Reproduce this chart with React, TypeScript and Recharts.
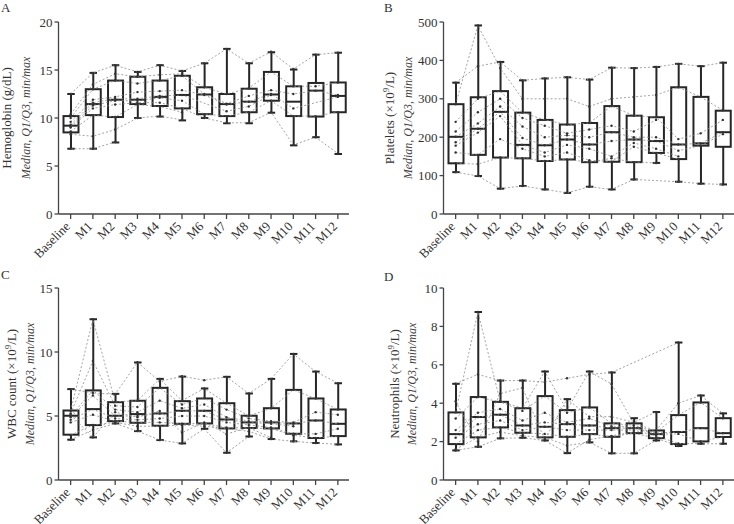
import React from "react";
import { ComposedChart, Bar, Line, XAxis, YAxis } from "recharts";

const months = ["Baseline", "M1", "M2", "M3", "M4", "M5", "M6", "M7", "M8", "M9", "M10", "M11", "M12"];

// A - hemoglobin (g/dL)
const hgbMin = [6.8, 6.8, 7.45, 10.0, 10.15, 9.75, 10.0, 9.45, 9.45, 10.55, 7.15, 8.0, 6.25];
const hgbQ1 = [8.5, 10.3, 10.1, 11.45, 11.25, 11.0, 10.4, 10.2, 10.6, 11.8, 10.2, 10.15, 10.6];
const hgbMed = [9.2, 11.45, 11.9, 11.9, 12.2, 12.4, 12.45, 11.45, 11.7, 12.45, 11.7, 12.85, 12.3];
const hgbQ3 = [10.2, 13.0, 13.9, 14.3, 13.9, 14.4, 13.2, 12.5, 13.05, 14.8, 13.3, 13.65, 13.7];
const hgbMax = [12.5, 14.7, 15.5, 14.8, 15.5, 14.9, 15.7, 17.2, 15.7, 16.85, 15.05, 16.6, 16.8];
const hgbPatients: (number | null)[][] = [
  [12.5, 14.7, 15.5, 14.8, 15.5, 14.9, 15.7, 17.2, 15.7, 16.9, 15.1, 16.6, 16.8],
  [10.4, 13.5, 14.6, 14.3, 14.5, 14.6, 13.2, 12.5, 13.1, 14.8, 13.3, 13.3, 13.7],
  [10.0, 13.0, 13.9, 13.6, 13.9, 14.4, 12.5, 11.5, 12.3, 12.9, 12.5, 12.85, 12.4],
  [9.6, 11.9, 12.2, 12.7, 12.8, 12.9, 12.4, 11.4, 11.7, 12.5, 11.0, null, 12.2],
  [9.3, 11.6, 12.0, 12.0, 12.3, 12.4, null, 10.7, 11.2, 12.4, null, null, null],
  [9.1, 11.3, 11.8, 11.8, 12.1, 11.8, 10.4, 10.2, 10.6, 11.8, 10.2, 10.2, 10.6],
  [9.0, 11.0, 11.4, 11.6, 11.6, 11.0, 10.0, 9.5, 9.5, 10.6, 7.2, 8.0, 6.3],
  [8.6, 10.3, 10.1, 11.4, 11.2, 10.6, null, null, null, null, null, null, null],
  [8.3, 8.1, 8.8, 10.0, 10.2, 9.8, null, null, null, null, null, null, null],
  [6.8, 6.8, 7.5, null, null, null, null, null, null, null, null, null, null],
];

// B - platelets (x10^9/L)
const pltMin = [109, 99, 66, 73, 64, 55, 71, 64, 90, 133, 84, 79, 77];
const pltQ1 = [132, 154, 147, 145, 138, 142, 135, 136, 135, 159, 143, 178, 175];
const pltMed = [201, 222, 266, 180, 179, 194, 181, 213, 194, 190, 181, 184, 213];
const pltQ3 = [286, 304, 320, 264, 245, 233, 237, 281, 256, 252, 330, 305, 269];
const pltMax = [342, 491, 396, 348, 353, 356, 350, 381, 380, 383, 391, 385, 394];
const pltPatients: (number | null)[][] = [
  [342, 385, 396, 348, 353, 356, 350, 381, 380, 383, 391, 385, 394],
  [286, 491, 380, 300, 300, 300, 280, 300, 305, 310, 330, 305, 270],
  [240, 300, 320, 264, 245, 233, 237, 281, 256, 252, 195, 210, 245],
  [215, 265, 300, 250, 230, 210, 220, 230, 215, 245, null, null, null],
  [201, 236, 280, 228, 200, 205, 200, 213, 200, 200, 181, 184, 213],
  [187, 222, 266, 198, 179, 194, 181, 190, 194, 190, 165, 178, 208],
  [178, 212, 255, 180, 160, 180, 170, 150, 185, 170, 150, null, null],
  [160, 154, 195, 170, 150, 160, 140, 136, 175, 159, 143, null, null],
  [132, 130, 147, 145, 138, 142, 135, 145, 135, 133, null, null, null],
  [109, 99, 66, 73, 64, 55, 71, 64, 90, null, 84, 79, 77],
];

// C - WBC count (x10^9/L)
const wbcMin = [3.15, 3.33, 4.42, 3.82, 3.12, 2.86, 4.0, 2.13, 3.4, 3.2, 3.02, 2.89, 2.78];
const wbcQ1 = [3.54, 4.29, 4.6, 4.47, 4.24, 4.39, 4.42, 4.03, 4.06, 4.03, 3.61, 3.28, 3.43];
const wbcMed = [5.02, 5.54, 5.02, 5.15, 5.2, 5.41, 5.41, 4.73, 4.5, 4.5, 4.42, 4.65, 4.39];
const wbcQ3 = [5.43, 7.0, 6.08, 6.19, 7.2, 6.16, 6.37, 6.0, 5.02, 5.61, 7.04, 6.37, 5.51];
const wbcMax = [7.1, 12.56, 6.73, 9.18, 7.9, 8.08, 7.15, 8.06, 6.76, 7.9, 9.85, 8.47, 7.56];
const wbcPatients: (number | null)[][] = [
  [7.1, 6.8, 6.7, 9.2, 7.7, 8.1, 7.8, 8.06, 6.76, 7.9, 9.85, 8.47, 7.56],
  [5.4, 12.56, 6.1, 6.2, 7.9, 6.2, 7.15, 6.0, 5.0, 5.6, 7.04, 6.37, 5.5],
  [5.2, 9.3, 5.8, 5.7, 7.2, 5.9, 6.4, 5.5, 4.8, 4.6, 4.5, 5.3, 5.1],
  [5.0, 7.0, 5.5, 5.3, 6.2, 5.6, 5.9, 4.9, 4.6, 4.5, 4.4, 4.65, 4.4],
  [4.9, 6.6, 5.0, 5.0, 5.2, 5.4, 5.4, 4.7, 4.5, 4.4, 4.2, null, null],
  [4.7, 5.54, 4.8, 4.7, 4.8, 5.0, 5.0, 4.5, 4.3, 4.1, 3.61, 3.6, 4.0],
  [4.5, 5.1, 4.6, 4.5, 4.5, 4.4, 4.4, 4.1, 4.06, 4.0, 3.5, 3.28, 3.43],
  [3.5, 4.3, 4.5, 4.2, 4.2, 4.3, 4.2, 4.03, 3.8, 3.2, 3.02, 2.89, 2.78],
  [3.15, 3.9, 4.42, 3.82, 3.12, 2.86, 4.0, 2.13, 3.4, null, null, null, null],
  [5.1, 3.33, 5.3, 4.9, 5.4, 3.7, 4.5, 3.6, 4.1, 3.3, null, null, null],
];

// D - neutrophils (x10^9/L)
const neuMin = [1.54, 1.73, 2.17, 2.2, 2.06, 1.4, 1.96, 1.39, 1.39, 2.06, 1.77, 1.89, 1.89];
const neuQ1 = [1.87, 2.22, 2.74, 2.46, 2.22, 2.25, 2.39, 2.25, 2.44, 2.18, 1.87, 2.01, 2.24];
const neuMed = [2.39, 3.28, 3.4, 2.84, 2.77, 2.91, 2.84, 2.7, 2.7, 2.39, 2.5, 2.7, 2.44];
const neuQ3 = [3.52, 4.32, 4.07, 3.74, 4.37, 3.64, 3.78, 2.95, 2.95, 2.58, 3.38, 4.04, 3.22];
const neuMax = [5.01, 8.75, 5.18, 5.18, 5.65, 4.21, 5.65, 5.6, 3.22, 3.54, 7.16, 4.4, 3.47];
const neuPatients: (number | null)[][] = [
  [5.01, 5.5, 5.18, 5.18, 5.1, 5.3, 5.5, 5.6, null, null, 7.16, null, null],
  [3.52, 8.75, 4.1, 3.74, 5.65, 3.64, 5.65, 5.0, 2.95, 2.58, 4.0, 4.4, 3.47],
  [3.2, 4.32, 4.07, 3.6, 4.37, 3.5, 3.78, 2.95, 2.85, 2.5, 3.38, 4.04, 3.22],
  [2.6, 3.5, 3.7, 3.1, 3.5, 3.0, 3.2, 2.8, 2.75, 2.45, 2.5, 2.7, 2.44],
  [2.39, 3.28, 3.4, 2.84, 3.0, 2.91, 2.84, 2.7, 2.7, 2.39, 2.4, 2.01, 2.24],
  [2.2, 2.9, 3.1, 2.6, 2.77, 2.6, 2.6, 2.6, 2.6, 2.3, 1.9, 1.89, 1.89],
  [1.87, 2.6, 2.74, 2.46, 2.4, 2.25, 2.39, 2.25, 2.44, 2.18, 1.77, null, null],
  [1.6, 2.22, 2.5, 2.3, 2.22, 1.8, 1.96, 1.39, 1.39, 2.06, null, null, null],
  [1.54, 1.73, 2.17, 2.2, 2.06, 1.4, 2.1, 2.3, 2.5, null, null, null, null],
  [4.1, 2.0, 4.5, 4.8, 2.1, 4.21, 3.3, 3.3, 3.0, 3.54, null, null, null],
];

const SERIF = "'Liberation Serif', 'Times New Roman', Times, serif";
const INK = "#262626";

function buildRows(mins: number[], q1s: number[], meds: number[], q3s: number[], maxs: number[], patients: (number | null)[][]) {
  return months.map((month, i) => {
    const row: any = { month, range: [mins[i], maxs[i]], min: mins[i], q1: q1s[i], med: meds[i], q3: q3s[i], max: maxs[i] };
    patients.forEach((p, j) => { row["p" + j] = p[i]; });
    return row;
  });
}

// draws the whole box from the min-max range bar that recharts positions
function BoxShape(props: any) {
  const { x, y, width, height, payload } = props;
  if (payload == null || height == null) return <g />;
  const top = Math.min(y, y + height);
  const h = Math.abs(height);
  const span = payload.max - payload.min || 1;
  const py = (v: number) => top + ((payload.max - v) / span) * h;
  const cx = x + width / 2;
  const cap = width * 0.25;
  return (
    <g stroke={INK} strokeWidth={2} fill="none">
      <line x1={cx} x2={cx} y1={py(payload.max)} y2={py(payload.q3)} />
      <line x1={cx} x2={cx} y1={py(payload.q1)} y2={py(payload.min)} />
      <line x1={cx - cap} x2={cx + cap} y1={py(payload.max)} y2={py(payload.max)} />
      <line x1={cx - cap} x2={cx + cap} y1={py(payload.min)} y2={py(payload.min)} />
      <rect x={x} y={py(payload.q3)} width={width} height={py(payload.q1) - py(payload.q3)} />
      <line x1={x} x2={x + width} y1={py(payload.med)} y2={py(payload.med)} />
    </g>
  );
}

function MonthTick({ x, y, payload }: any) {
  const ax = x - 3;
  const ay = y + 3;
  return (
    <text
      x={ax}
      y={ay}
      transform={`rotate(-45 ${ax} ${ay})`}
      textAnchor="end"
      dy="0.35em"
      fontFamily={SERIF}
      fontSize={13}
      fill="#333"
    >
      {payload.value}
    </text>
  );
}

type PanelProps = {
  letter: string;
  left: number;
  top: number;
  rows: any[];
  patientCount: number;
  yMax: number;
  yTicks: number[];
  title: React.ReactNode;
  titleX: number;
  subX: number;
  letterY: number;
};

function Panel({ letter, left, top, rows, patientCount, yMax, yTicks, title, titleX, subX, letterY }: PanelProps) {
  const ids = Array.from({ length: patientCount }, (_, j) => "p" + j);
  return (
    <div style={{ position: "absolute", left, top, width: 385, height: 258 }}>
      <ComposedChart width={349} height={258} data={rows} margin={{ top: 22, right: 0, bottom: 0, left: 0 }}>
        <XAxis
          dataKey="month"
          interval={0}
          tick={<MonthTick />}
          tickSize={5}
          tickMargin={2}
          height={44}
          padding={{ left: 1, right: 0 }}
          axisLine={{ stroke: "#444", strokeWidth: 1.3 }}
          tickLine={{ stroke: "#444", strokeWidth: 1.3 }}
        />
        <YAxis
          domain={[0, yMax]}
          ticks={yTicks}
          width={58.5}
          tickSize={4}
          tickMargin={2}
          axisLine={{ stroke: "#444", strokeWidth: 1.3 }}
          tickLine={{ stroke: "#444", strokeWidth: 1.3 }}
          tick={{ fontFamily: SERIF, fontSize: 13, fill: "#333" }}
          allowDataOverflow
        />
        {ids.map((k) => (
          <Line
            key={k}
            dataKey={k}
            type="linear"
            stroke="#8c8c8c"
            strokeWidth={0.8}
            strokeDasharray="2 2"
            dot={{ r: 1.2, fill: "#333", stroke: "none" }}
            activeDot={false}
            connectNulls
            isAnimationActive={false}
          />
        ))}
        <Bar dataKey="range" barSize={15} shape={<BoxShape />} isAnimationActive={false} />
      </ComposedChart>
      <svg width={385} height={258} style={{ position: "absolute", left: 0, top: 0, overflow: "visible", pointerEvents: "none" }}>
        <text x={letter === "B" || letter === "D" ? -1 : 1} y={letterY} fontFamily={SERIF} fontSize={13} fill="#333">
          {letter}
        </text>
        <text
          transform={`translate(${titleX + 4},118) rotate(-90)`}
          textAnchor="middle"
          fontFamily={SERIF}
          fontSize={13}
          fill="#333"
        >
          {title}
        </text>
        <text
          transform={`translate(${subX + 4},118) rotate(-90)`}
          textAnchor="middle"
          fontFamily={SERIF}
          fontStyle="italic"
          fontSize={12}
          fill="#444"
        >
          Median, Q1/Q3, min/max
        </text>
      </svg>
    </div>
  );
}

function Per109({ name }: { name: string }) {
  return (
    <>
      <tspan>{name} (×10</tspan>
      <tspan dy={-5} fontSize={9}>9</tspan>
      <tspan dy={5}>/L)</tspan>
    </>
  );
}

export default function App() {
  const hgbRows = buildRows(hgbMin, hgbQ1, hgbMed, hgbQ3, hgbMax, hgbPatients);
  const pltRows = buildRows(pltMin, pltQ1, pltMed, pltQ3, pltMax, pltPatients);
  const wbcRows = buildRows(wbcMin, wbcQ1, wbcMed, wbcQ3, wbcMax, wbcPatients);
  const neuRows = buildRows(neuMin, neuQ1, neuMed, neuQ3, neuMax, neuPatients);

  return (
    <div style={{ position: "relative", width: 734, height: 524, background: "#fff", overflow: "hidden" }}>
      <style>{"body{margin:0}"}</style>
      <Panel letter="A" left={0} top={0} rows={hgbRows} patientCount={hgbPatients.length} yMax={20} yTicks={[0, 5, 10, 15, 20]}
        title="Hemoglobin (g/dL)" titleX={7} subX={26} letterY={12} />
      <Panel letter="B" left={385} top={0} rows={pltRows} patientCount={pltPatients.length} yMax={500}
        yTicks={[0, 50, 100, 150, 200, 250, 300, 350, 400, 450, 500]}
        title={<Per109 name="Platelets" />} titleX={5} subX={23} letterY={12} />
      <Panel letter="C" left={0} top={266} rows={wbcRows} patientCount={wbcPatients.length} yMax={15} yTicks={[0, 5, 10, 15]}
        title={<Per109 name="WBC count" />} titleX={12} subX={30} letterY={13} />
      <Panel letter="D" left={385} top={266} rows={neuRows} patientCount={neuPatients.length} yMax={10} yTicks={[0, 2, 4, 6, 8, 10]}
        title={<Per109 name="Neutrophils" />} titleX={10} subX={27} letterY={15} />
    </div>
  );
}
